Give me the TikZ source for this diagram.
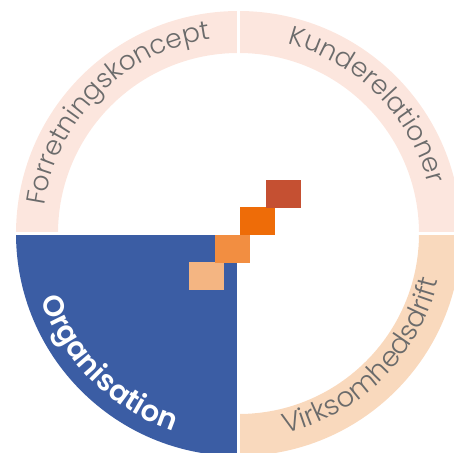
\documentclass[tikz,border=0pt]{standalone}
\usepackage{fontspec}
\setmainfont{Poppins}
\newfontfamily\ringfont{Poppins Light}
\newfontfamily\fedfont{Poppins SemiBold}
\usetikzlibrary{decorations.text}

\definecolor{ringrosa}{HTML}{FCE6DE}
\definecolor{ringfersken}{HTML}{F9D9BD}
\definecolor{kvartblaa}{HTML}{3B5DA4}
\definecolor{tekstgraa}{HTML}{6B6B6B}
\definecolor{kvadlys}{HTML}{F4B582}
\definecolor{kvadorange}{HTML}{F28E41}
\definecolor{kvadmoerk}{HTML}{EE6C08}
\definecolor{kvadroed}{HTML}{C55032}

\newcommand{\ydre}{222.5}
\newcommand{\indre}{180.5}

\begin{document}
\begin{tikzpicture}[x=1pt, y=1pt,
		ringtekst/.style 2 args={decorate, decoration={text along path, text align=center,
			text={|\ringfont\fontsize{#1}{#1}\selectfont\color{tekstgraa}|#2}}},
		fedtekst/.style={decorate, decoration={text along path, text align=center,
			text={|\fedfont\fontsize{29}{29}\selectfont\color{white}|#1}}}]
		% Billedet er beskaaret til hoejre og forneden
		\clip (-238.5,-218.5) rectangle (215.5,233.5);

		% Ringstykker
		\fill[ringrosa] (90:\ydre) arc[start angle=90, end angle=180, radius=\ydre] -- (180:\indre) arc[start angle=180, end angle=90, radius=\indre] -- cycle;
		\fill[ringrosa] (0:\ydre) arc[start angle=0, end angle=90, radius=\ydre] -- (90:\indre) arc[start angle=90, end angle=0, radius=\indre] -- cycle;
		\fill[ringfersken] (270:\ydre) arc[start angle=270, end angle=360, radius=\ydre] -- (0:\indre) arc[start angle=360, end angle=270, radius=\indre] -- cycle;

		% Hel kvart
		\fill[kvartblaa] (0,0) -- (180:\ydre) arc[start angle=180, end angle=270, radius=\ydre] -- cycle;

		% Mellemrum
		\draw[white, line width=3] (-240,0) -- (240,0) (0,-240) -- (0,240);

		% Trappe af kvadrater
		\foreach \farve [count=\i from 0] in {kvadlys, kvadorange, kvadmoerk, kvadroed}
			\fill[\farve] (-49.5+25.7*\i, -56.5+27.3*\i) rectangle ++(35,28);

		% Tekster
		\path[ringtekst={26.5}{Forretningskoncept}] (180:196) arc[start angle=180, end angle=90, radius=196];
		\path[ringtekst={26.5}{Kunderelationer}] (90:196) arc[start angle=90, end angle=0, radius=196];
		\path[ringtekst={27.5}{Virksomhedsdrift}] (270:205) arc[start angle=270, end angle=360, radius=205];
		\path[fedtekst=Organisation] (180:208) arc[start angle=180, end angle=270, radius=208];
	\end{tikzpicture}
\end{document}
